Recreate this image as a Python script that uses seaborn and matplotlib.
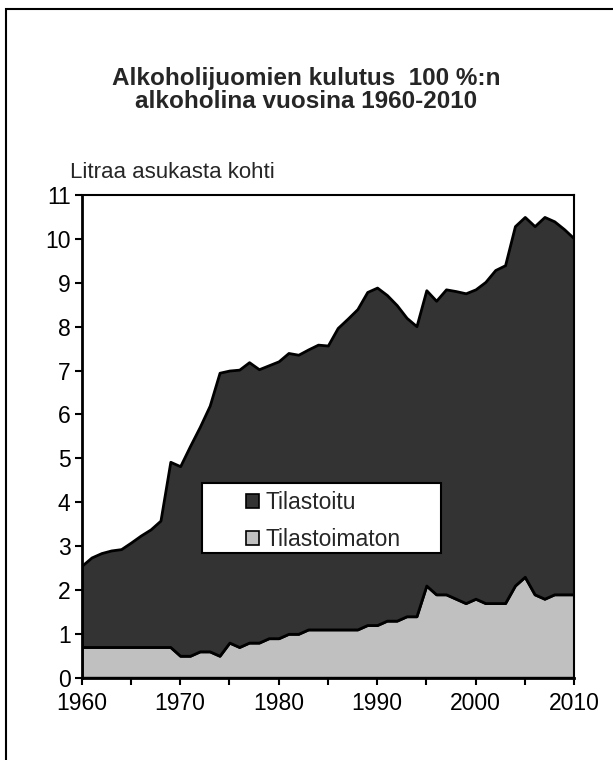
import numpy as np
import matplotlib
matplotlib.use("Agg")
import matplotlib.pyplot as plt
from matplotlib.patches import Rectangle, Patch
import seaborn as sns

# alkoholin kulutus litraa / asukas (100 % alkoholina)
years = list(range(1960, 2011))
tilastoitu = [1.85, 2.04, 2.14, 2.20, 2.23, 2.38, 2.54, 2.68, 2.88, 4.22,
              4.32, 4.78, 5.12, 5.60, 6.45, 6.20, 6.32, 6.39, 6.23, 6.22,
              6.31, 6.40, 6.36, 6.38, 6.49, 6.47, 6.87, 7.08, 7.30, 7.59,
              7.69, 7.42, 7.19, 6.80, 6.61, 6.73, 6.69, 6.95, 7.01, 7.06,
              7.05, 7.32, 7.59, 7.70, 8.19, 8.20, 8.39, 8.70, 8.50, 8.32,
              8.11]
tilastoimaton = [0.7, 0.7, 0.7, 0.7, 0.7, 0.7, 0.7, 0.7, 0.7, 0.7,
                 0.5, 0.5, 0.6, 0.6, 0.5, 0.8, 0.7, 0.8, 0.8, 0.9,
                 0.9, 1.0, 1.0, 1.1, 1.1, 1.1, 1.1, 1.1, 1.1, 1.2,
                 1.2, 1.3, 1.3, 1.4, 1.4, 2.1, 1.9, 1.9, 1.8, 1.7,
                 1.8, 1.7, 1.7, 1.7, 2.1, 2.3, 1.9, 1.8, 1.9, 1.9,
                 1.9]
series_names = ['Tilastoitu', 'Tilastoimaton']
colors = {'Tilastoitu': '#333333', 'Tilastoimaton': '#c0c0c0'}
xticks = list(range(1960, 2011, 5))
xticklabels = [str(y) if y % 10 == 0 else '' for y in xticks]
yticks = list(range(0, 12))

sns.set_theme(style="ticks")
plt.rcParams['font.family'] = ['Liberation Sans', 'DejaVu Sans']

W, H = 613, 760
fig = plt.figure(figsize=(W / 100, H / 100), dpi=100)
ax = fig.add_axes([81.7 / W, (H - 677.7) / H, 492.3 / W, 482.7 / H])

ax.stackplot(years, tilastoimaton, tilastoitu,
             colors=[colors['Tilastoimaton'], colors['Tilastoitu']],
             edgecolor='black', linewidth=2)

ax.set_xlim(1960, 2010)
ax.set_ylim(0, 11)
ax.set_xticks(xticks)
ax.set_xticklabels(xticklabels)
ax.set_yticks(yticks)
ax.tick_params(direction='out', length=5, width=1.5, labelsize=16.5,
               colors='black', bottom=True, left=True)
ax.tick_params(axis='x', pad=5)
ax.tick_params(axis='y', pad=3)
for side in ['left', 'bottom']:
    ax.spines[side].set_linewidth(2)
for side in ['top', 'right']:
    ax.spines[side].set_linewidth(1.5)
for sp in ax.spines.values():
    sp.set_color('black')
ax.set_xlabel('')
ax.set_ylabel('')

# legend box
ax.add_patch(Rectangle((0.244, 0.258), 0.486, 0.145, transform=ax.transAxes,
                       facecolor='white', edgecolor='black', lw=1.5, zorder=3))
handles = [Patch(facecolor=colors[n], edgecolor='black', lw=1.2) for n in series_names]
leg = ax.legend(handles, series_names, loc='center left',
                bbox_to_anchor=(0.334, 0.324), frameon=False, fontsize=16.5,
                handlelength=0.55, handleheight=0.55, handletextpad=0.3,
                labelspacing=0.6, borderpad=0, borderaxespad=0)
leg.set_zorder(4)

fig.text(0.5, 1 - 78 / H, 'Alkoholijuomien kulutus  100 %:n', ha='center', va='center',
         fontsize=17.5, fontweight='bold')
fig.text(0.5, 1 - 102 / H, 'alkoholina vuosina 1960-2010', ha='center', va='center',
         fontsize=17.5, fontweight='bold')
fig.text(70 / W, 1 - 172 / H, 'Litraa asukasta kohti', ha='left', va='center', fontsize=16)

fig.add_artist(Rectangle((6 / W, -0.05), 1.2, 1.05 - 9 / H, transform=fig.transFigure,
                         fill=False, edgecolor='black', lw=1.5))

fig.savefig('out.png', dpi=100)
